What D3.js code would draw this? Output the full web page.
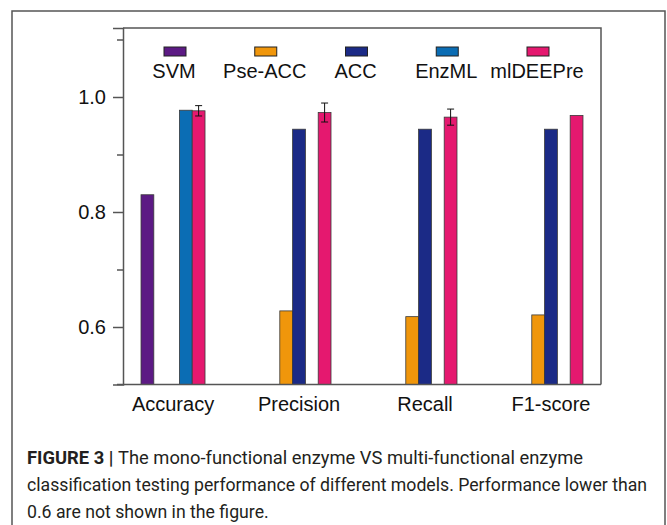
<!DOCTYPE html>
<html>
<head>
<meta charset="utf-8">
<script src="https://cdn.jsdelivr.net/npm/d3@7"></script>
<style>
  body { margin: 0; background: #fff; }
  svg { display: block; font-family: "Liberation Sans", Arial, sans-serif; }
</style>
</head>
<body>
<div id="chart"></div>
<script>
// chart data
const categories = ["Accuracy", "Precision", "Recall", "F1-score"];
const models = ["SVM", "Pse-ACC", "ACC", "EnzML", "mlDEEPre"];
const colors = ["#5c1a84", "#f0960b", "#1b2a86", "#0b6db4", "#e5186f"];

// null = below 0.6, not shown
const svmValues = [0.83, null, null, null];
const pseAccValues = [null, 0.628, 0.618, 0.621];
const accValues = [null, 0.944, 0.944, 0.944];
const enzmlValues = [0.977, null, null, null];
const mldeepreValues = [0.976, 0.973, 0.965, 0.968];
const mldeepreErrors = [0.009, 0.0165, 0.014, 0];

const majorTicks = [0.6, 0.8, 1.0];
const minorTicks = [0.7, 0.9, 1.1];

const captionLines = [
  "The mono-functional enzyme VS multi-functional enzyme",
  "classification testing performance of different models. Performance lower than",
  "0.6 are not shown in the figure."
];

const seriesValues = [svmValues, pseAccValues, accValues, enzmlValues, mldeepreValues];

const width = 667, height = 525;
const plot = { left: 123, right: 601, top: 28, bottom: 384.5 };

const svg = d3.select("#chart").append("svg")
    .attr("width", width)
    .attr("height", height);

svg.append("rect")
    .attr("width", width).attr("height", height)
    .attr("fill", "#fff");

// outer figure border
svg.append("rect")
    .attr("x", 12).attr("y", 11)
    .attr("width", 653).attr("height", 540)
    .attr("fill", "none")
    .attr("stroke", "#555")
    .attr("stroke-width", 1.5);

// scales
const x = d3.scaleBand()
    .domain(categories)
    .range([plot.left, plot.right])
    .paddingInner(0.492)
    .paddingOuter(0.143);

const xSub = d3.scaleBand()
    .domain(models)
    .range([0, x.bandwidth()]);

const y = d3.scaleLinear()
    .domain([0.5, 1.12])
    .range([plot.bottom, plot.top]);

const color = d3.scaleOrdinal().domain(models).range(colors);

// bars
const barData = [];
seriesValues.forEach((vals, si) => {
  vals.forEach((v, ci) => {
    if (v != null) barData.push({ model: models[si], cat: categories[ci], value: v, ci: ci });
  });
});

svg.append("g").selectAll("rect")
  .data(barData)
  .join("rect")
    .attr("x", d => x(d.cat) + xSub(d.model))
    .attr("y", d => y(d.value))
    .attr("width", xSub.bandwidth())
    .attr("height", d => y(0.5) - y(d.value))
    .attr("fill", d => color(d.model))
    .attr("stroke", "#3a3a3a")
    .attr("stroke-width", 0.8);

// error bars on mlDEEPre
const errData = categories.map((c, i) => ({ cat: c, value: mldeepreValues[i], err: mldeepreErrors[i] }))
    .filter(d => d.err > 0);

const eg = svg.append("g").attr("stroke", "#111").attr("stroke-width", 1);
errData.forEach(d => {
  const cx = x(d.cat) + xSub("mlDEEPre") + xSub.bandwidth() / 2;
  eg.append("line")
    .attr("x1", cx).attr("x2", cx)
    .attr("y1", y(d.value + d.err)).attr("y2", y(d.value - d.err));
  [d.value + d.err, d.value - d.err].forEach(v => {
    eg.append("line")
      .attr("x1", cx - 3.5).attr("x2", cx + 3.5)
      .attr("y1", y(v)).attr("y2", y(v));
  });
});

// frame (top + right)
svg.append("path")
    .attr("d", `M${plot.left},${plot.top}H${plot.right}V${plot.bottom}`)
    .attr("fill", "none")
    .attr("stroke", "#555")
    .attr("stroke-width", 1.5);

// y axis
const yAxis = svg.append("g")
    .attr("transform", `translate(${plot.left},0)`)
    .call(d3.axisLeft(y).tickValues(majorTicks).tickSize(10).tickPadding(7).tickFormat(d3.format(".1f")));
yAxis.select(".domain").attr("stroke", "#555").attr("stroke-width", 1.5);
yAxis.selectAll(".tick line").attr("stroke", "#555").attr("stroke-width", 1.5);
yAxis.selectAll("text").attr("font-size", 20).attr("fill", "#111")
    .attr("font-family", "Liberation Sans, Arial, sans-serif");

const yMinor = svg.append("g")
    .attr("transform", `translate(${plot.left},0)`)
    .call(d3.axisLeft(y).tickValues(minorTicks).tickSize(6).tickFormat(""));
yMinor.select(".domain").remove();
yMinor.selectAll(".tick line").attr("stroke", "#555").attr("stroke-width", 1.5);

// x axis
const xAxis = svg.append("g")
    .attr("transform", `translate(0,${plot.bottom})`)
    .call(d3.axisBottom(x).tickSize(0).tickPadding(12));
xAxis.select(".domain")
    .attr("d", `M${plot.left - 6},0H${plot.right}`)
    .attr("stroke", "#555").attr("stroke-width", 1.5);
xAxis.selectAll("text").attr("font-size", 20).attr("fill", "#111")
    .attr("font-family", "Liberation Sans, Arial, sans-serif");

// legend
const legendX = d3.scalePoint().domain(models).range([175, 538]);
const legend = svg.append("g");
models.forEach(m => {
  legend.append("rect")
    .attr("x", legendX(m) - 11).attr("y", 47)
    .attr("width", 22).attr("height", 9)
    .attr("fill", color(m))
    .attr("stroke", "#222").attr("stroke-width", 1);
  legend.append("text")
    .attr("x", legendX(m) - 1).attr("y", 78)
    .attr("text-anchor", "middle")
    .attr("font-size", 20)
    .attr("fill", "#111")
    .text(m);
});

// caption
const cap = svg.append("g")
    .attr("font-family", "Roboto, 'Liberation Sans', sans-serif")
    .attr("font-size", 17.7)
    .attr("fill", "#231f20");

const first = cap.append("text").attr("x", 27).attr("y", 464)
    .attr("textLength", 556).attr("lengthAdjust", "spacingAndGlyphs");
first.append("tspan").attr("font-weight", "bold").text("FIGURE 3 | ");
first.append("tspan").text(captionLines[0]);

cap.append("text").attr("x", 27).attr("y", 491)
    .attr("textLength", 620).attr("lengthAdjust", "spacingAndGlyphs")
    .text(captionLines[1]);
cap.append("text").attr("x", 27).attr("y", 518).text(captionLines[2]);
</script>
</body>
</html>
